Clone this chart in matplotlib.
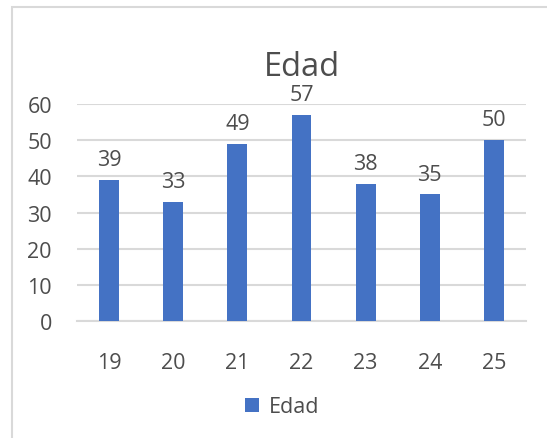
import matplotlib.pyplot as plt
from matplotlib.patches import Rectangle

# datos
edades = ["19", "20", "21", "22", "23", "24", "25"]
valores = [39, 33, 49, 57, 38, 35, 50]
yticks = [0, 10, 20, 30, 40, 50, 60]

azul = "#4472C4"
gris_texto = "#4D4D4D"
gris_linea = "#D9D9D9"

plt.rcParams["font.family"] = ["Open Sans", "DejaVu Sans"]

fig = plt.figure(figsize=(5.47, 4.39), dpi=100)
ax = fig.add_axes([77 / 547, 1 - 322 / 439, 449 / 547, 217 / 439])

x = list(range(len(edades)))
barras = ax.bar(x, valores, width=0.31, color=azul, zorder=3, label="Edad")
ax.bar_label(barras, labels=[str(v) for v in valores], padding=7,
             fontsize=15.5, color=gris_texto)

ax.set_xlim(-0.5, len(edades) - 0.5)
ax.set_ylim(0, 60)
ax.set_yticks(yticks)
ax.set_xticks(x)
ax.set_xticklabels(edades)
ax.tick_params(axis="both", length=0, labelsize=15.5, colors=gris_texto)
ax.tick_params(axis="x", pad=22)
ax.tick_params(axis="y", pad=18)
ax.grid(axis="y", color=gris_linea, linewidth=1.5, zorder=0)
for s in ["top", "right", "left"]:
    ax.spines[s].set_visible(False)
ax.spines["bottom"].set_color(gris_linea)
ax.spines["bottom"].set_linewidth(1.5)

ax.set_title("Edad", fontsize=23.5, color=gris_texto, pad=21)

ax.legend(loc="center", bbox_to_anchor=(282 / 547, 1 - 408 / 439),
          bbox_transform=fig.transFigure, frameon=False, fontsize=15.5,
          labelcolor=gris_texto, handlelength=0.65, handleheight=0.65,
          handletextpad=0.45)

# borde del grafico
fig.patches.append(Rectangle((12 / 547, -0.1), 1.0, 1 - 8 / 439 + 0.1,
                             transform=fig.transFigure, fill=False,
                             edgecolor=gris_linea, linewidth=1.5))

plt.savefig("out.png", dpi=100)
